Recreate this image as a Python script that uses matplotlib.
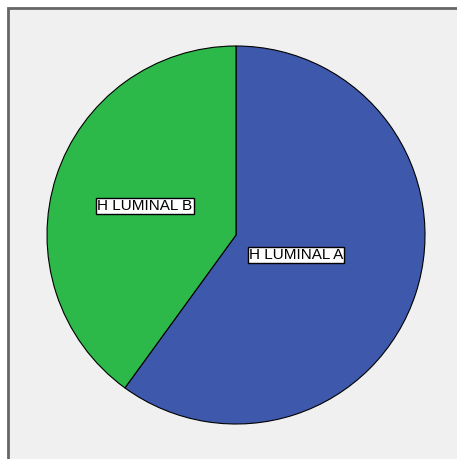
import matplotlib.pyplot as plt
from matplotlib.patches import Rectangle

# Pie data
labels = ['H LUMINAL A', 'H LUMINAL B']
values = [60, 40]
colors = ['#3E58AC', '#2DB84A']

# label anchor positions in pixel space (x, y from top)
label_pos = [(296, 255), (145, 206)]

W, H = 457, 459
fig = plt.figure(figsize=(W / 100, H / 100), dpi=100, facecolor='white')
ax = fig.add_axes([0, 0, 1, 1])

# gray chart panel with dark left/top border
ax.add_patch(Rectangle((8, -5), W + 10, H - 8 + 5, facecolor='#F0F0F0',
                       edgecolor='#666666', linewidth=2, zorder=0))

wedges, _ = ax.pie(values, colors=colors, startangle=90, counterclock=False,
                   center=(236, H - 235), radius=189, frame=True,
                   wedgeprops=dict(edgecolor='black', linewidth=0.8))
ax.set_xlim(0, W)
ax.set_ylim(0, H)
ax.set_aspect('equal')
ax.axis('off')

for lab, (x, y) in zip(labels, label_pos):
    ax.text(x, H - y, lab, ha='center', va='center', fontsize=11,
            family='Liberation Sans', color='black',
            bbox=dict(boxstyle='square,pad=0.08', facecolor='white',
                      edgecolor='black', linewidth=1))

fig.savefig('out.png', dpi=100, facecolor='white')
